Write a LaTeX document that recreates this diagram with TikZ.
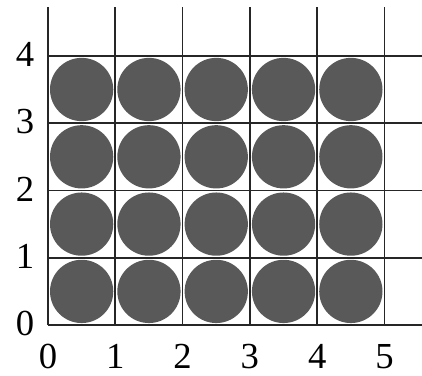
\documentclass[tikz,border=0pt]{standalone}
\usepackage{fontspec}
\setmainfont{Liberation Serif}
\usepackage{tikz}
\usetikzlibrary{calc}

\begin{document}
\begin{tikzpicture}[disk/.style = {fill=black!65, draw=none},
        gridline/.style = {line width=0.75pt, draw=black!85},
        lbl/.style = {font=\fontsize{15.5}{18}\selectfont, inner sep=0pt}]
        \useasboundingbox (-0.713,-0.743) rectangle (5.557,4.83);
        % disks
        \foreach \x in {0,...,4}
          \foreach \y in {0,...,3}
            \fill[disk] (\x+0.5,\y+0.5) circle (0.47);
        % grid
        \foreach \x in {0,...,5}
          \draw[gridline] (\x,0) -- (\x,4.72);
        \foreach \y in {0,...,4}
          \draw[gridline] (0,\y) -- (5.557,\y);
        % labels
        \foreach \x in {0,...,5}
          \node[lbl] (x\x) at (\x,-0.47) {\x};
        \foreach \y in {0,...,4}
          \node[lbl] (y\y) at (-0.34,\y+0.02) {\y};
\end{tikzpicture}
\end{document}
